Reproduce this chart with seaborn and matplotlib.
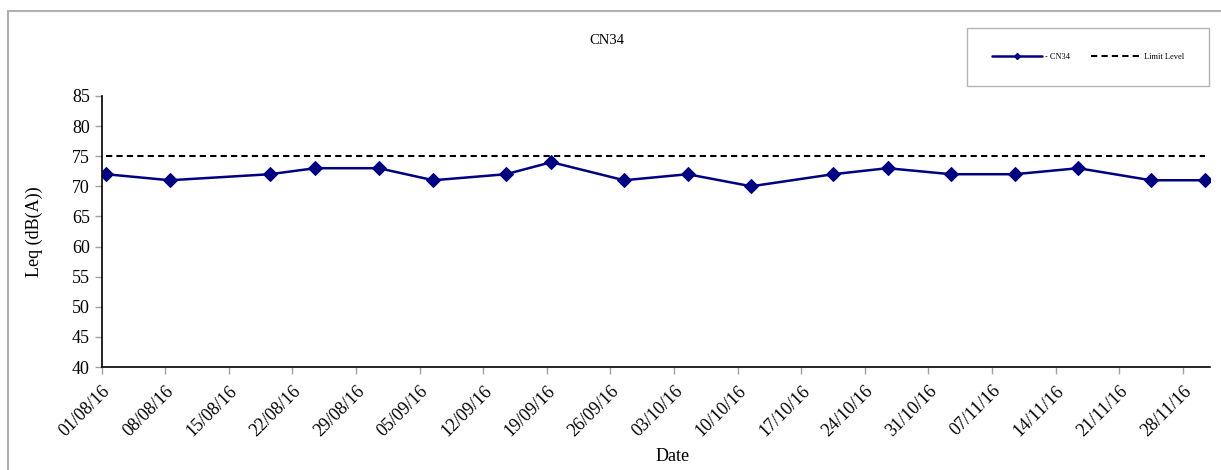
import pandas as pd
import seaborn as sns
import matplotlib.pyplot as plt
from matplotlib.patches import Rectangle
from matplotlib.lines import Line2D

# --- data ---
DATES = [
    "01/08/16", "08/08/16", "19/08/16", "24/08/16", "31/08/16", "06/09/16",
    "14/09/16", "19/09/16", "27/09/16", "04/10/16", "11/10/16", "20/10/16",
    "26/10/16", "02/11/16", "09/11/16", "16/11/16", "24/11/16", "30/11/16",
]
LEQ = [72, 71, 72, 73, 73, 71, 72, 74, 71, 72, 70, 72, 73, 72, 72, 73, 71, 71]
LIMIT_LEVEL = 75
TICK_DATES = [
    "01/08/16", "08/08/16", "15/08/16", "22/08/16", "29/08/16", "05/09/16",
    "12/09/16", "19/09/16", "26/09/16", "03/10/16", "10/10/16", "17/10/16",
    "24/10/16", "31/10/16", "07/11/16", "14/11/16", "21/11/16", "28/11/16",
]
X_START, X_END = "01/08/16", "01/12/16"

NAVY = "#000080"

sns.set_style("ticks")
plt.rcParams["font.family"] = ["Liberation Serif", "DejaVu Serif"]
plt.rcParams["text.color"] = "black"
plt.rcParams["xtick.labelcolor"] = "black"
plt.rcParams["ytick.labelcolor"] = "black"
plt.rcParams["axes.labelcolor"] = "black"


def to_dt(s):
    return pd.to_datetime(s, format="%d/%m/%y")


# Excel date axis puts each point in the middle of its day
df = pd.DataFrame({"date": to_dt(pd.Series(DATES)) + pd.Timedelta(hours=12), "leq": LEQ})
df["limit"] = LIMIT_LEVEL

fig = plt.figure(figsize=(12.21, 4.70), dpi=100)
ax = fig.add_axes([0.0833, 0.219, 0.9077, 0.577])

sns.lineplot(data=df, x="date", y="limit", ax=ax, color="black", lw=1.5,
             linestyle=(0, (3, 2)))
sns.lineplot(data=df, x="date", y="leq", ax=ax, color=NAVY, lw=1.8,
             marker="D", markersize=7.5, markeredgecolor=NAVY)

ax.set_xlim(to_dt(X_START), to_dt(X_END))
ax.set_ylim(40, 85)
ax.set_yticks(range(40, 86, 5))
ticks = [to_dt(t) for t in TICK_DATES]
ax.set_xticks(ticks)
ax.set_xticklabels(TICK_DATES, rotation=45, ha="right", rotation_mode="anchor")
ax.tick_params(axis="both", labelsize=13, color="#a0a0a0", length=5, width=1)
ax.tick_params(axis="x", pad=6)

for side in ("top", "right"):
    ax.spines[side].set_visible(False)
for side in ("left", "bottom"):
    ax.spines[side].set_color("black")
    ax.spines[side].set_linewidth(1.2)

ax.set_xlabel("Date", fontsize=13)
ax.set_ylabel("Leq (dB(A))", fontsize=13)
ax.xaxis.set_label_coords(0.515, -0.30)
ax.yaxis.set_label_coords(-0.053, 0.5)

fig.text(0.497, 0.913, "CN34", ha="center", va="center", fontsize=10.5)

handles = [
    Line2D([], [], color=NAVY, lw=1.8, marker="D", markersize=3),
    Line2D([], [], color="black", lw=1.5, linestyle=(0, (3, 2))),
]
leg = fig.legend(handles, ["- CN34", "Limit Level"], ncol=2, fontsize=6,
                 loc="center", bbox_to_anchor=(0.891, 0.878),
                 frameon=True, fancybox=False, edgecolor="#a0a0a0",
                 handlelength=6.0, handletextpad=0.4, columnspacing=2.5,
                 borderpad=3.0, borderaxespad=0)
leg.get_frame().set_linewidth(1)

# outer chart border (Excel chart area)
fig.patches.append(Rectangle((8 / 1221, -0.1), 1.2, 1 - 11 / 470 + 0.1,
                             transform=fig.transFigure, fill=False,
                             edgecolor="#b0b0b0", lw=1.5))

fig.savefig("out.png", dpi=100)
